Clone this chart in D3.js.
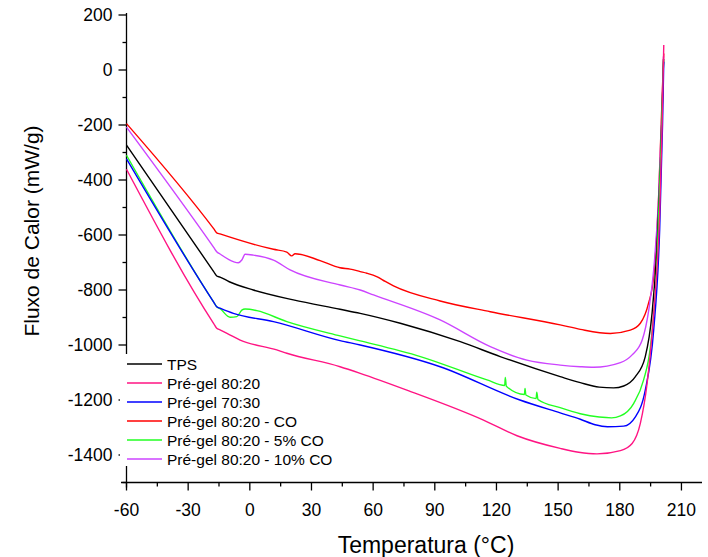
<!DOCTYPE html>
<html><head><meta charset="utf-8">
<script src="https://cdn.jsdelivr.net/npm/d3@7"></script>
<style>body{margin:0;background:#fff}svg{display:block;font-family:"Liberation Sans",Arial,sans-serif}</style>
</head><body><svg id="c" width="708" height="557"></svg>
<script>
const seriesNames = ["TPS","Pré-gel 80:20","Pré-gel 70:30","Pré-gel 80:20 - CO","Pré-gel 80:20 - 5% CO","Pré-gel 80:20 - 10% CO"];
const seriesColors = ["#000000","#ff1483","#0000ff","#ff0000","#22ff22","#cc44ff"];
const xTicks = [-60,-30,0,30,60,90,120,150,180,210];
const yTicks = [200,0,-200,-400,-600,-800,-1000,-1200,-1400];

const tps = [[-60,-273],[-17.5,-734],[-16.1,-749],[-14.5,-753],[-10,-770],[1.7,-800],[21.2,-836],[43.9,-870],[53.7,-885],[73.2,-921],[102.4,-988],[121.8,-1042],[151,-1115],[160.8,-1137],[170,-1153],[177,-1156],[181.9,-1149],[187.6,-1115],[192.4,-1042],[195.7,-885],[198.1,-643],[199.8,-339],[200.8,-100],[201.3,40]];
const pg8020 = [[-60,-361],[-17.5,-923],[-16.1,-939],[-14.5,-945],[-10,-962],[-4.7,-982],[13.1,-1018],[18,-1030],[43.9,-1079],[53.7,-1103],[76.4,-1164],[113.7,-1273],[130,-1330],[151,-1376],[160,-1390],[168.9,-1396],[180.3,-1384],[186,-1358],[190,-1285],[193.3,-1139],[196.5,-885],[199.4,-521],[200.6,-200],[201.4,91]];
const pg7030 = [[-60,-323],[-17.5,-845],[-16.1,-861],[-14.5,-866],[-8,-885],[11.5,-915],[43.9,-984],[53.7,-1000],[92.6,-1079],[131.4,-1200],[151,-1247],[160.8,-1270],[168,-1290],[174,-1297],[181.9,-1295],[187.6,-1261],[192.4,-1164],[196.5,-945],[199.4,-582],[200.8,-200],[201.4,30]];
const pgCO = [[-60,-195],[-17.5,-578],[-16.1,-592],[-14.5,-596],[11.5,-652],[18,-662],[20.4,-676],[22,-668],[34.2,-693],[43.9,-719],[48.8,-724],[53.7,-733],[57,-739],[62,-752],[65.9,-769],[69.9,-785],[92.6,-840],[117,-879],[151,-927],[160.8,-943],[175.4,-958],[185.1,-946],[190,-921],[194,-848],[196.5,-751],[198.9,-461],[200.6,-97],[201.4,60]];
const pg5CO = [[-60,-310],[-17.5,-845],[-16.1,-861],[-14.5,-868],[-9.6,-899],[-6.3,-897],[-3.9,-873],[-2.3,-869],[3.4,-875],[18,-915],[43.9,-967],[53.7,-985],[83,-1042],[115.4,-1127],[124,-1147],[124.3,-1118],[124.8,-1150],[133.6,-1180],[133.9,-1158],[134.3,-1182],[139.3,-1195],[139.6,-1172],[140.2,-1198],[151,-1228],[160.8,-1250],[170,-1262],[176,-1265],[180.3,-1258],[186.8,-1212],[191.6,-1127],[194.9,-1006],[198.1,-703],[200.2,-250],[201.3,35]];
const pg10CO = [[-60,-208],[-17.5,-646],[-16.1,-661],[-14.5,-669],[-8,-697],[-5.6,-701],[-3.9,-691],[-2.3,-670],[1.7,-673],[11.5,-691],[19.6,-727],[44,-782],[53.7,-800],[60.2,-818],[92.6,-909],[117,-1006],[134.8,-1055],[151,-1073],[160.8,-1079],[167.3,-1081],[180.3,-1064],[186,-1036],[190.9,-982],[194.1,-873],[196.5,-727],[198.9,-461],[200.5,-150],[201.3,50]];
const allSeries = [tps, pg8020, pg7030, pgCO, pg5CO, pg10CO];

const svg = d3.select("#c");
const x = d3.scaleLinear().domain([-60,220]).range([126.5,702]);
const y = d3.scaleLinear().domain([-1500,200]).range([482.5,15]);

// axes
const xMinor = d3.range(-60,226,15);
const yMinor = d3.range(-1500,201,100);
const ax = svg.append("g").attr("stroke","#000").attr("stroke-width",1.3);
ax.append("line").attr("x1",121).attr("x2",702).attr("y1",y(-1500)).attr("y2",y(-1500));
ax.append("line").attr("x1",x(-60)).attr("x2",x(-60)).attr("y1",13).attr("y2",y(-1500)+5);
xMinor.forEach(v=>{const maj=xTicks.includes(v);ax.append("line").attr("x1",x(v)).attr("x2",x(v)).attr("y1",y(-1500)).attr("y2",y(-1500)+(maj?8:4));});
yMinor.forEach(v=>{const maj=yTicks.includes(v);ax.append("line").attr("x1",x(-60)).attr("x2",x(-60)-(maj?8:4)).attr("y1",y(v)).attr("y2",y(v));});

const tl = svg.append("g").attr("font-size",17.5).attr("fill","#000");
xTicks.forEach(v=>tl.append("text").attr("x",x(v)).attr("y",516).attr("text-anchor","middle").text(v));
yTicks.forEach(v=>tl.append("text").attr("x",x(-60)-14).attr("y",y(v)+6).attr("text-anchor","end").text(v));

svg.append("text").attr("x",426).attr("y",553).attr("text-anchor","middle").attr("font-size",23).text("Temperatura (°C)");
svg.append("text").attr("transform","translate(39,231) rotate(-90)").attr("text-anchor","middle").attr("font-size",21).text("Fluxo de Calor (mW/g)");

// curves
const line = d3.line().x(d=>x(d[0])).y(d=>y(d[1])).curve(d3.curveMonotoneX);
const order = [3,5,0,4,2,1];
order.forEach(i=>{
  svg.append("path").datum(allSeries[i]).attr("d",line).attr("fill","none")
    .attr("stroke",seriesColors[i]).attr("stroke-width",1.4).attr("stroke-linejoin","round");
});

// legend
svg.append("rect").attr("x",120).attr("y",354).attr("width",8).attr("height",112).attr("fill","#fff");
const lg = svg.append("g");
seriesNames.forEach((n,i)=>{
  const yy = 364 + i*19;
  lg.append("line").attr("x1",127).attr("x2",162).attr("y1",yy).attr("y2",yy).attr("stroke",seriesColors[i]).attr("stroke-width",1.4);
  lg.append("text").attr("x",167).attr("y",yy+5.5).attr("font-size",15.5).text(n);
});
</script></body></html>
